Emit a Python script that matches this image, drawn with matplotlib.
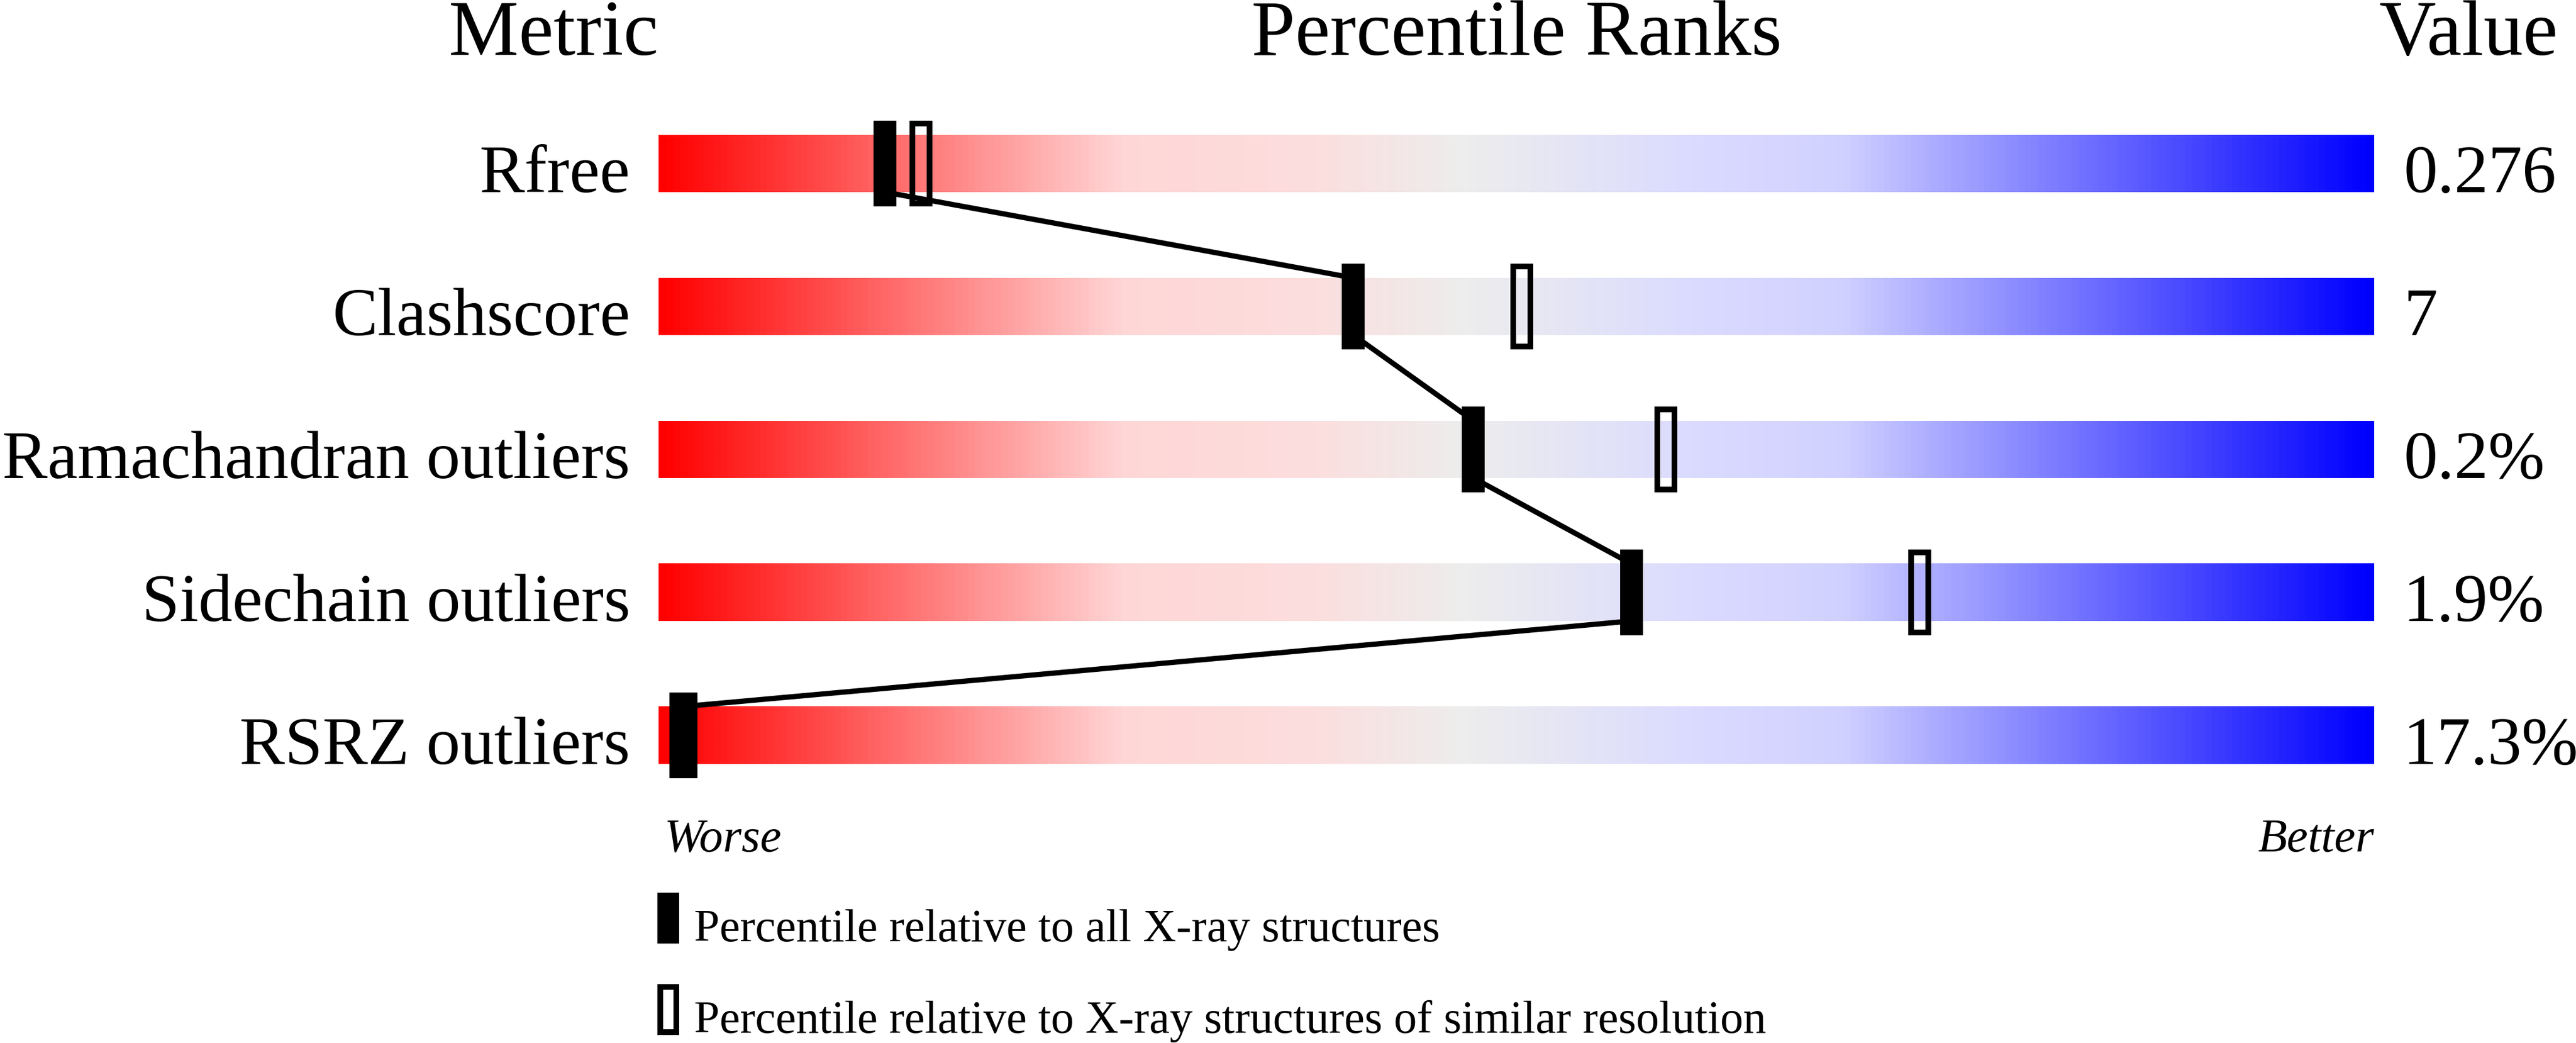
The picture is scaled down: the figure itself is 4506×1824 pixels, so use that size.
"""Percentile slider chart: validation metrics against all / similar-resolution X-ray structures."""

import numpy as np
import matplotlib
matplotlib.use("Agg")
import matplotlib.pyplot as plt
from matplotlib.colors import LinearSegmentedColormap
from matplotlib.patches import Rectangle

metrics = ["Rfree", "Clashscore", "Ramachandran outliers", "Sidechain outliers", "RSRZ outliers"]
values = ["0.276", "7", "0.2%", "1.9%", "17.3%"]
pct_all = [13.2, 40.5, 47.5, 56.7, 1.3]
pct_res = [15.3, 50.3, 58.7, 73.5, 1.6]
legend_labels = ["Percentile relative to all X-ray structures",
                 "Percentile relative to X-ray structures of similar resolution"]

W, H, DPI = 4506, 1824, 300
BAR_L, BAR_R = 1152, 4153          # pixel extent of the sliders
ROW0, ROW_STEP = 286, 250          # pixel centre of first row, row spacing
PX = (BAR_R - BAR_L) / 100.0       # pixels per percentile unit

plt.rcParams["font.family"] = ["Liberation Serif", "DejaVu Serif"]

grad = LinearSegmentedColormap.from_list("slider", [
    (0.00, (1.00, 0.00, 0.00)),
    (0.27, (1.00, 0.84, 0.84)),
    (0.38, (0.99, 0.87, 0.87)),
    (0.47, (0.93, 0.93, 0.93)),
    (0.60, (0.86, 0.86, 1.00)),
    (0.69, (0.82, 0.82, 1.00)),
    (1.00, (0.00, 0.00, 1.00)),
])


def main():
    fig = plt.figure(figsize=(W / DPI, H / DPI), dpi=DPI)
    ax = fig.add_axes([0, 0, 1, 1])
    ax.set_xlim(-BAR_L / PX, (W - BAR_L) / PX)
    ax.set_ylim((H - ROW0) / ROW_STEP, -ROW0 / ROW_STEP)
    ax.axis("off")

    bar_h = 100 / ROW_STEP
    mk_h = 150 / ROW_STEP
    mk_w = 40 / PX
    ramp = np.linspace(0, 1, 512)[None, :]

    for i, (name, val) in enumerate(zip(metrics, values)):
        ax.imshow(ramp, cmap=grad, aspect="auto", interpolation="bilinear",
                  extent=(0, 100, i + bar_h / 2, i - bar_h / 2), zorder=1)
        ax.text(-1.65, i + bar_h / 2, name, ha="right", va="baseline", fontsize=28.5)
        ax.text(101.7, i + bar_h / 2, val, ha="left", va="baseline", fontsize=28.5)

    # similar-resolution percentile (hollow)
    lw_px = 10
    for i, p in enumerate(pct_res):
        ax.add_patch(Rectangle((p - (mk_w - lw_px / PX) / 2, i - (mk_h - lw_px / ROW_STEP) / 2),
                               mk_w - lw_px / PX, mk_h - lw_px / ROW_STEP,
                               facecolor="none", edgecolor="black",
                               linewidth=lw_px * 72 / DPI, zorder=3))

    # connecting line through the all-structures markers
    xs, ys = [], []
    for i, p in enumerate(pct_all):
        xs += [p, p]
        ys += [i - bar_h / 2, i + bar_h / 2]
    ax.plot(xs[1:-1], ys[1:-1], color="black", linewidth=2.2, zorder=4,
            solid_capstyle="butt")

    # all-structures percentile (filled)
    for i, p in enumerate(pct_all):
        ax.add_patch(Rectangle((p - mk_w / 2, i - mk_h / 2), mk_w, mk_h,
                               facecolor="black", edgecolor="none", zorder=5))

    # headers
    ax.text(-6.13, -0.76, "Metric", ha="center", va="baseline", fontsize=33)
    ax.text(50, -0.76, "Percentile Ranks", ha="center", va="baseline", fontsize=33)
    ax.text(105.5, -0.76, "Value", ha="center", va="baseline", fontsize=33)

    n = len(metrics)
    ax.text(0.3, n - 1 + 0.81, "Worse", ha="left", va="baseline",
            fontsize=20, style="italic")
    ax.text(100, n - 1 + 0.81, "Better", ha="right", va="baseline",
            fontsize=20, style="italic")

    # legend
    leg_y = [5.10, 5.74]
    leg_h = 89 / ROW_STEP
    ax.add_patch(Rectangle((-0.07, leg_y[0]), 38 / PX, leg_h,
                           facecolor="black", edgecolor="none"))
    ax.add_patch(Rectangle((-0.07 + 5 / PX, leg_y[1] + 5 / ROW_STEP),
                           28 / PX, leg_h - 10 / ROW_STEP,
                           facecolor="none", edgecolor="black",
                           linewidth=lw_px * 72 / DPI))
    for y, lab in zip(leg_y, legend_labels):
        ax.text(2.07, y + leg_h - 0.015, lab, ha="left", va="baseline", fontsize=19.3)

    fig.savefig("out.png", dpi=DPI)
    plt.close(fig)


if __name__ == "__main__":
    main()
